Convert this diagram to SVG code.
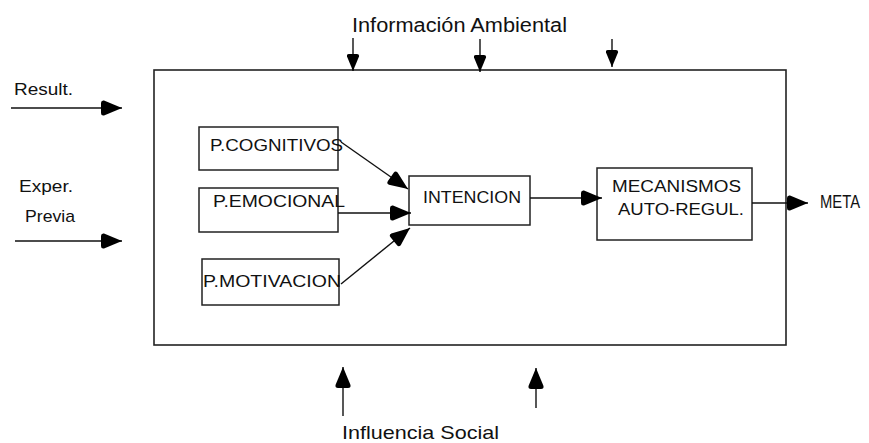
<svg xmlns="http://www.w3.org/2000/svg" width="869" height="443" viewBox="0 0 869 443">
<style>
  .box { fill: #fff; stroke: #222; stroke-width: 1.5; }
  .outer { fill: #fff; stroke: #222; stroke-width: 1.6; }
  .lbl { font-family: "Liberation Sans", Arial, sans-serif; fill: #111; }
  .conn { stroke: #111; stroke-width: 1.4; fill: none; }
  .big { marker-end: url(#ah); }
  .sm { marker-end: url(#ahs); }
</style>
<defs>
  <marker id="ah" viewBox="0 0 22 16" markerWidth="22" markerHeight="16" refX="22" refY="8" orient="auto" markerUnits="userSpaceOnUse">
    <path d="M22,8 L4,0.5 Q1,0 1,3 L1,13 Q1,16 4,15.5 Z" fill="#000"/>
  </marker>
  <marker id="ahs" viewBox="0 0 18 13" markerWidth="18" markerHeight="13" refX="18" refY="6.5" orient="auto" markerUnits="userSpaceOnUse">
    <path d="M18,6.5 L3.5,0.5 Q1,0 1,2.5 L1,10.5 Q1,13 3.5,12.5 Z" fill="#000"/>
  </marker>
</defs>
<rect width="869" height="443" fill="#fff"/>

<g id="sistema">
  <rect class="outer" x="154" y="70" width="632" height="275"/>
</g>

<g id="p-cognitivos">
  <rect class="box" x="199" y="127" width="139" height="43"/>
  <text class="lbl" x="210" y="151" font-size="16" textLength="133" lengthAdjust="spacingAndGlyphs">P.COGNITIVOS</text>
</g>
<g id="p-emocional">
  <rect class="box" x="199" y="188" width="139" height="44"/>
  <text class="lbl" x="213" y="207" font-size="16" textLength="132" lengthAdjust="spacingAndGlyphs">P.EMOCIONAL</text>
</g>
<g id="p-motivacion">
  <rect class="box" x="202" y="259" width="137" height="46"/>
  <text class="lbl" x="203" y="287" font-size="16" textLength="138" lengthAdjust="spacingAndGlyphs">P.MOTIVACION</text>
</g>
<g id="intencion">
  <rect class="box" x="409" y="176" width="121" height="49"/>
  <text class="lbl" x="423" y="203" font-size="17" textLength="98" lengthAdjust="spacingAndGlyphs">INTENCION</text>
</g>
<g id="mecanismos">
  <rect class="box" x="597" y="168" width="155" height="72"/>
  <text class="lbl" x="612" y="192" font-size="16" textLength="129" lengthAdjust="spacingAndGlyphs">MECANISMOS</text>
  <text class="lbl" x="618" y="215" font-size="16" textLength="126" lengthAdjust="spacingAndGlyphs">AUTO-REGUL.</text>
</g>
<g id="meta">
  <text class="lbl" x="820" y="208" font-size="18" textLength="40" lengthAdjust="spacingAndGlyphs">META</text>
</g>
<g id="result">
  <text class="lbl" x="14" y="95" font-size="17" textLength="59" lengthAdjust="spacingAndGlyphs">Result.</text>
</g>
<g id="exper-previa">
  <text class="lbl" x="19" y="192" font-size="17" textLength="54" lengthAdjust="spacingAndGlyphs">Exper.</text>
  <text class="lbl" x="25" y="222" font-size="17" textLength="50" lengthAdjust="spacingAndGlyphs">Previa</text>
</g>
<g id="informacion-ambiental">
  <text class="lbl" x="352" y="32" font-size="20" textLength="215" lengthAdjust="spacingAndGlyphs">Información Ambiental</text>
</g>
<g id="influencia-social">
  <text class="lbl" x="342" y="439" font-size="19" textLength="157" lengthAdjust="spacingAndGlyphs">Influencia Social</text>
</g>

<g id="connectors">
  <line class="conn big" x1="341" y1="142" x2="408" y2="189"/>
  <line class="conn big" x1="338" y1="213" x2="411" y2="213"/>
  <line class="conn big" x1="341" y1="284" x2="410" y2="228"/>
  <line class="conn big" x1="530" y1="198" x2="602" y2="198"/>
  <line class="conn big" x1="752" y1="203" x2="808" y2="203"/>
  <line class="conn big" x1="11" y1="108" x2="122" y2="108"/>
  <line class="conn big" x1="15" y1="241" x2="122" y2="241"/>
  <line class="conn sm" x1="353" y1="38" x2="353" y2="71"/>
  <line class="conn sm" x1="480" y1="39" x2="480" y2="72"/>
  <line class="conn sm" x1="612" y1="39" x2="612" y2="67"/>
  <line class="conn big" x1="343" y1="416" x2="343" y2="367"/>
  <line class="conn big" x1="536" y1="408" x2="536" y2="368"/>
</g>
</svg>
